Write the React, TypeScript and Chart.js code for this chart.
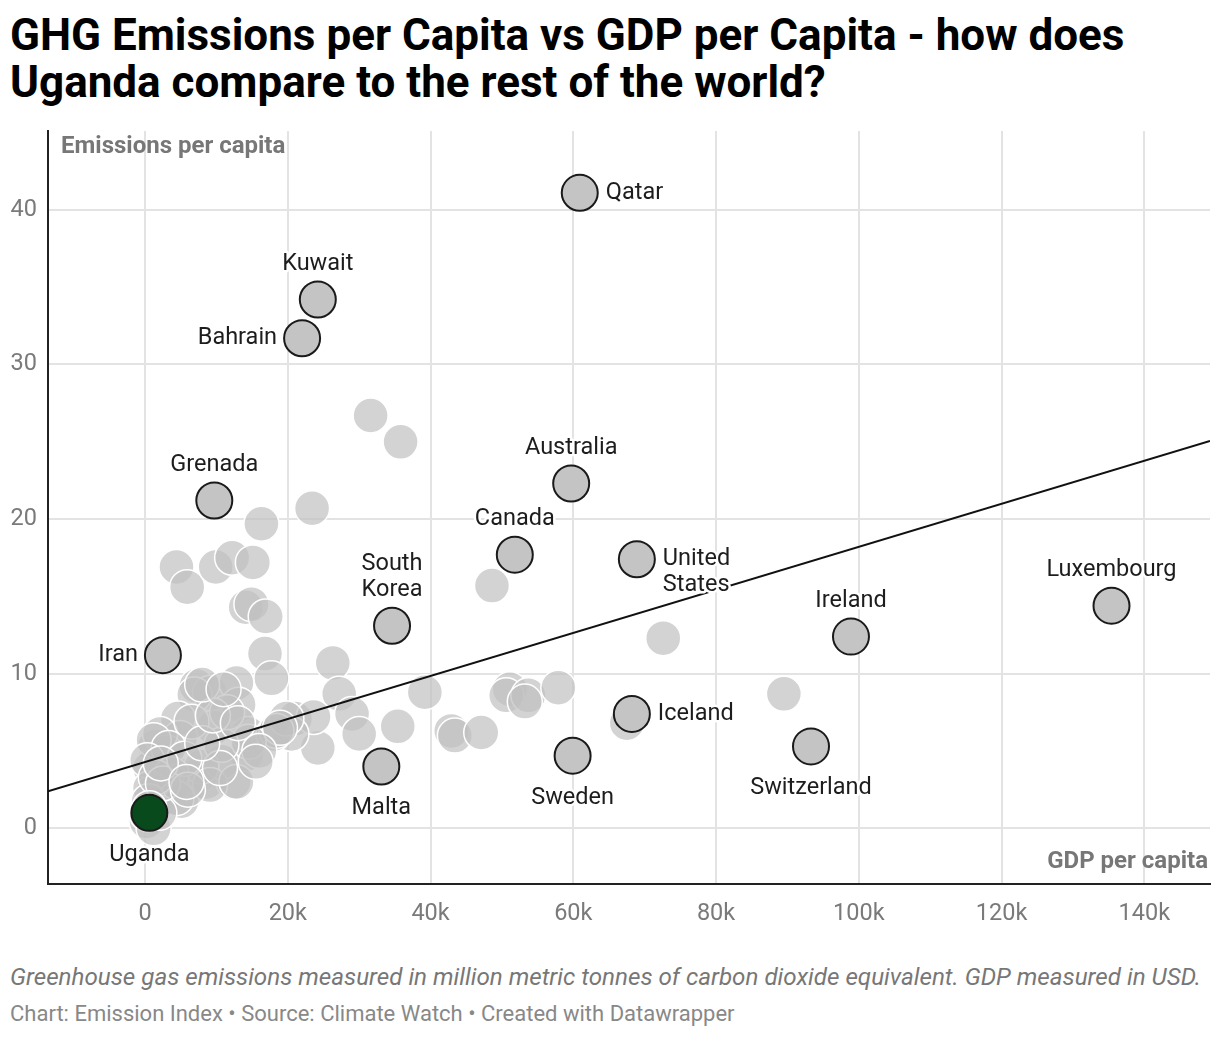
import React, { useEffect, useRef } from "react";
import { Chart, registerables } from "chart.js";

Chart.register(...registerables);

// ---------- DATA ----------
const HIGHLIGHT_NAMES = [
  "Qatar", "Kuwait", "Bahrain", "Grenada", "Australia", "Canada", "United\nStates",
  "South\nKorea", "Iran", "Ireland", "Luxembourg", "Iceland", "Switzerland", "Sweden", "Malta", "Uganda",
];
const HIGHLIGHT_GDP = [
  60900, 24200, 22000, 9700, 59700, 51800, 68900, 34600, 2500, 98900, 135400, 68200, 93300, 59900, 33100, 600,
];
const HIGHLIGHT_EMISSIONS = [
  41.1, 34.2, 31.7, 21.2, 22.3, 17.7, 17.4, 13.1, 11.2, 12.4, 14.4, 7.4, 5.3, 4.7, 4.0, 1.0,
];
const LABEL_SIDES = [
  "right", "top", "left", "top", "top", "top", "right", "top", "left", "top", "top", "right", "bottom", "bottom", "bottom", "bottom",
];
const FOCUS_COUNTRY = "Uganda";

const OTHER_GDP = [
  31600, 35800, 23400, 16300, 4400, 5900, 9900, 12200, 15100, 14100, 14900, 16900, 16800, 26300, 17700,
  48600, 72600, 89500, 27200, 29000, 30000, 24200, 35400, 39200, 42900, 43400, 47100, 51100, 50600, 53700,
  53200, 57900, 21000, 23600, 20500, 67500, 7200, 9100, 12800, 13100, 6900, 4600, 9600, 4900, 1400,
  3000, 700, 4400, 7700, 8600, 12400, 14200, 14500, 18000, 19800, 18400, 3000, 5100, 1200, 200,
  10700, 7900, 2100, 6500, 1200, 3300, 300, 3700, 9100, 12800, 14500, 18900, 700, 4400, 500,
  300, 1200, 10700, 10500, 2000, 1500, 2500, 600, 5500, 6000, 8000, 11500, 16000, 2200, 5800,
  9500, 13000, 15500, 8000, 11000,
];
const OTHER_EMISSIONS = [
  26.7, 25.0, 20.7, 19.7, 16.9, 15.6, 16.9, 17.5, 17.2, 14.3, 14.5, 13.7, 11.3, 10.7, 9.7,
  15.7, 12.3, 8.7, 8.7, 7.4, 6.1, 5.2, 6.6, 8.8, 6.3, 6.0, 6.2, 9.0, 8.6, 8.6,
  8.2, 9.1, 7.1, 7.2, 6.1, 6.8, 9.2, 8.75, 9.4, 8.0, 8.65, 7.1, 6.5, 5.85, 5.3,
  4.9, 3.9, 3.5, 3.5, 3.0, 3.0, 4.8, 6.1, 6.1, 7.1, 6.3, 2.2, 1.75, 2.4, 0.45,
  4.3, 4.0, 6.1, 6.9, 5.7, 5.2, 4.4, 3.5, 2.8, 3.0, 5.6, 6.5, 2.6, 1.95, 1.75,
  0.9, 0.0, 5.4, 3.9, 1.0, 3.3, 2.9, 1.3, 4.5, 2.5, 5.5, 7.5, 5.0, 4.2, 3.0,
  7.3, 6.8, 4.3, 9.3, 9.0,
];

const TREND_GDP = [-13600, 149200];
const TREND_EMISSIONS = [2.4, 25.05];

const X_MIN = -13600;
const X_MAX = 149200;
const Y_MIN = -3.6;
const Y_MAX = 45.1;
const X_TICKS = [0, 20000, 40000, 60000, 80000, 100000, 120000, 140000];
const Y_TICKS = [0, 10, 20, 30, 40];

const TITLE_LINES = [
  "GHG Emissions per Capita vs GDP per Capita - how does",
  "Uganda compare to the rest of the world?",
];
const Y_TITLE = "Emissions per capita";
const X_TITLE = "GDP per capita";
const NOTE = "Greenhouse gas emissions measured in million metric tonnes of carbon dioxide equivalent. GDP measured in USD.";
const CREDIT = "Chart: Emission Index • Source: Climate Watch • Created with Datawrapper";

// ---------- PLUGIN ----------
const labelPlugin = {
  id: "pointLabels",
  afterDatasetsDraw(chart: any) {
    const ctx = chart.ctx;
    const xs = chart.scales.x;
    const ys = chart.scales.y;
    const area = chart.chartArea;
    ctx.save();
    ctx.font = "23.5px Roboto";
    ctx.lineJoin = "round";
    const lh = 26;
    HIGHLIGHT_NAMES.forEach((name, i) => {
      const px = xs.getPixelForValue(HIGHLIGHT_GDP[i]);
      const py = ys.getPixelForValue(HIGHLIGHT_EMISSIONS[i]);
      const lines = name.split("\n");
      const side = LABEL_SIDES[i];
      let x = px;
      let y0 = py;
      if (side === "top") {
        ctx.textAlign = "center";
        ctx.textBaseline = "alphabetic";
        y0 = py - 30 - (lines.length - 1) * lh;
      } else if (side === "bottom") {
        ctx.textAlign = "center";
        ctx.textBaseline = "alphabetic";
        y0 = py + 48;
      } else if (side === "right") {
        ctx.textAlign = "left";
        ctx.textBaseline = "middle";
        x = px + 26;
      } else {
        ctx.textAlign = "right";
        ctx.textBaseline = "middle";
        x = px - 25;
      }
      lines.forEach((ln, k) => {
        const y = y0 + k * lh;
        ctx.strokeStyle = "#ffffff";
        ctx.lineWidth = 5;
        ctx.strokeText(ln, x, y);
        ctx.fillStyle = "#1d1d1d";
        ctx.fillText(ln, x, y);
      });
    });
    ctx.font = "bold 24px Roboto";
    ctx.fillStyle = "#777777";
    ctx.textBaseline = "alphabetic";
    ctx.textAlign = "left";
    ctx.fillText(Y_TITLE, area.left + 13, area.top + 22);
    ctx.textAlign = "right";
    ctx.fillText(X_TITLE, area.right - 2, area.bottom - 16);
    ctx.restore();
  },
};

export default function App() {
  const ref = useRef<HTMLCanvasElement | null>(null);

  useEffect(() => {
    if (!ref.current) return;
    const others = OTHER_GDP.map((g, i) => ({ x: g, y: OTHER_EMISSIONS[i] }));
    const highlights = HIGHLIGHT_GDP.map((g, i) => ({ x: g, y: HIGHLIGHT_EMISSIONS[i] }));
    const trend = TREND_GDP.map((g, i) => ({ x: g, y: TREND_EMISSIONS[i] }));
    const tickFont = { family: "Roboto", size: 23.5 };
    const chart = new Chart(ref.current, {
      type: "scatter",
      data: {
        datasets: [
          {
            type: "scatter",
            data: highlights,
            order: 1,
            pointRadius: 18,
            pointBackgroundColor: HIGHLIGHT_NAMES.map((n) => (n === FOCUS_COUNTRY ? "#084a1c" : "#c4c4c4")),
            pointBorderColor: "#1a1a1a",
            pointBorderWidth: 2,
          } as any,
          {
            type: "line",
            data: trend,
            order: 2,
            borderColor: "#111111",
            borderWidth: 2,
            pointRadius: 0,
            fill: false,
            tension: 0,
          } as any,
          {
            type: "scatter",
            data: others,
            order: 3,
            pointRadius: 17.5,
            pointBackgroundColor: "rgba(192,192,192,0.7)",
            pointBorderColor: "#ffffff",
            pointBorderWidth: 1.5,
          } as any,
        ],
      },
      options: {
        animation: false,
        responsive: false,
        events: [],
        layout: { autoPadding: false, padding: { top: 10, right: 10, left: 0, bottom: 0 } },
        plugins: { legend: { display: false }, tooltip: { enabled: false } },
        scales: {
          x: {
            type: "linear",
            min: X_MIN,
            max: X_MAX,
            afterBuildTicks: (s: any) => {
              s.ticks = X_TICKS.map((v) => ({ value: v }));
            },
            afterFit: (s: any) => {
              s.height = 57;
              s.paddingLeft = 0;
              s.paddingRight = 0;
            },
            grid: { color: "#e3e3e3", lineWidth: 2, drawTicks: false },
            border: { color: "#222222", width: 2 },
            ticks: {
              padding: 16,
              color: "#7a7a7a",
              font: tickFont,
              autoSkip: false,
              maxRotation: 0,
              callback: (v: any) => (v === 0 ? "0" : `${v / 1000}k`),
            },
          },
          y: {
            type: "linear",
            min: Y_MIN,
            max: Y_MAX,
            afterBuildTicks: (s: any) => {
              s.ticks = Y_TICKS.map((v) => ({ value: v }));
            },
            afterFit: (s: any) => {
              s.width = 48;
              s.paddingTop = 0;
              s.paddingBottom = 0;
            },
            grid: { color: "#e3e3e3", lineWidth: 2, drawTicks: false },
            border: { color: "#222222", width: 2 },
            ticks: {
              padding: 11,
              color: "#7a7a7a",
              font: tickFont,
              autoSkip: false,
              callback: (v: any) => `${v}`,
            },
          },
        },
      } as any,
      plugins: [labelPlugin],
    });
    return () => chart.destroy();
  }, []);

  return (
    <div
      style={{
        position: "absolute",
        left: 0,
        top: 0,
        width: 1220,
        height: 1038,
        background: "#ffffff",
        fontFamily: "Roboto",
        overflow: "hidden",
      }}
    >
      <div
        style={{
          position: "absolute",
          left: 10,
          top: 12,
          fontFamily: "Roboto",
          fontWeight: 700,
          fontSize: 44,
          lineHeight: "47px",
          color: "#000",
          whiteSpace: "nowrap",
        }}
      >
        {TITLE_LINES.map((t) => (
          <div key={t}>{t}</div>
        ))}
      </div>
      <div style={{ position: "absolute", left: 0, top: 121, width: 1220, height: 820 }}>
        <canvas ref={ref} width={1220} height={820} style={{ width: 1220, height: 820, display: "block" }} />
      </div>
      <div
        style={{
          position: "absolute",
          left: 10,
          top: 963,
          fontFamily: "Roboto",
          fontStyle: "italic",
          fontSize: 24.2,
          color: "#777",
          whiteSpace: "nowrap",
        }}
      >
        {NOTE}
      </div>
      <div
        style={{
          position: "absolute",
          left: 10,
          top: 1001,
          fontFamily: "Roboto",
          fontSize: 22,
          color: "#888",
          whiteSpace: "nowrap",
        }}
      >
        {CREDIT}
      </div>
    </div>
  );
}
